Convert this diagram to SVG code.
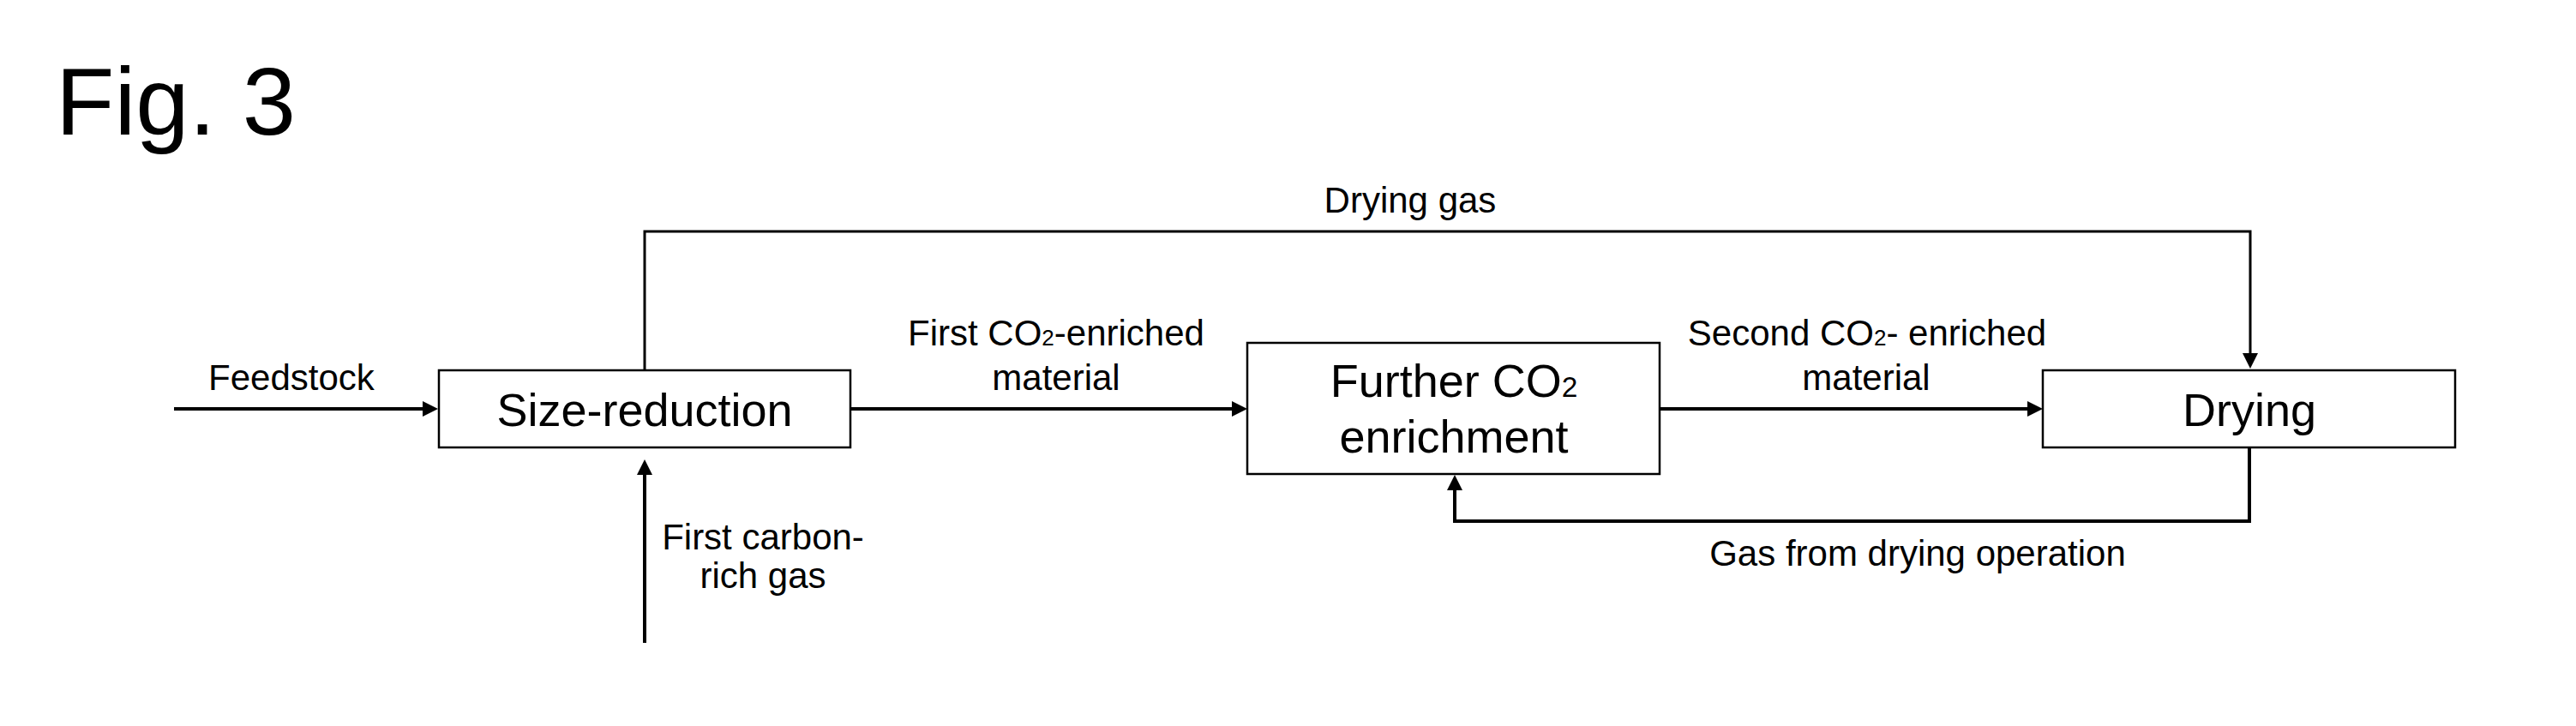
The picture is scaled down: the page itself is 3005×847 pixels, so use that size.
<svg xmlns="http://www.w3.org/2000/svg" width="3005" height="847" viewBox="0 0 3005 847">
<style>
text{font-family:"Liberation Sans",Arial,sans-serif;fill:#000}
.lbl{font-size:42px;text-anchor:middle}
.node{font-size:54px;text-anchor:middle}
.box{fill:#fff;stroke:#000;stroke-width:2.5}
.flow{fill:none;stroke:#000;stroke-width:4}
.thin{fill:none;stroke:#000;stroke-width:3}
.sub{font-size:0.62em}
</style>
<defs>
<marker id="ah" markerUnits="userSpaceOnUse" markerWidth="18" markerHeight="18" viewBox="0 0 18 18" refX="6" refY="9" orient="auto">
<path d="M0,0 L18,9 L0,18 z" fill="#000"/>
</marker>
</defs>
<rect width="3005" height="847" fill="#fff"/>
<text x="65" y="157" style="font-size:112px">Fig. 3</text>
<g id="connectors">
<path class="flow" d="M203,477 H499" marker-end="url(#ah)"/>
<path class="flow" d="M992,477 H1443" marker-end="url(#ah)"/>
<path class="flow" d="M1936,477 H2371" marker-end="url(#ah)"/>
<path class="thin" d="M752,432 V270 H2625 V418" marker-end="url(#ah)"/>
<path class="flow" d="M752,750 V548" marker-end="url(#ah)"/>
<path class="flow" d="M2624,522 V608 H1697 V566" marker-end="url(#ah)"/>
<text class="lbl" x="340" y="455">Feedstock</text>
<text class="lbl" x="1645" y="248">Drying gas</text>
<text class="lbl" x="1232" y="403">First CO<tspan class="sub">2</tspan>-enriched</text>
<text class="lbl" x="1232" y="455">material</text>
<text class="lbl" x="2178" y="403">Second CO<tspan class="sub">2</tspan>- enriched</text>
<text class="lbl" x="2177" y="455">material</text>
<text class="lbl" x="890" y="641">First carbon-</text>
<text class="lbl" x="890" y="686">rich gas</text>
<text class="lbl" x="2237" y="660">Gas from drying operation</text>
</g>
<g id="size-reduction">
<rect class="box" x="512" y="432" width="480" height="90"/>
<text class="node" x="752" y="497">Size-reduction</text>
</g>
<g id="further-co2">
<rect class="box" x="1455" y="400" width="481" height="153"/>
<text class="node" x="1696" y="463">Further CO<tspan class="sub">2</tspan></text>
<text class="node" x="1696" y="528">enrichment</text>
</g>
<g id="drying">
<rect class="box" x="2383" y="432" width="481" height="90"/>
<text class="node" x="2624" y="497">Drying</text>
</g>
</svg>
